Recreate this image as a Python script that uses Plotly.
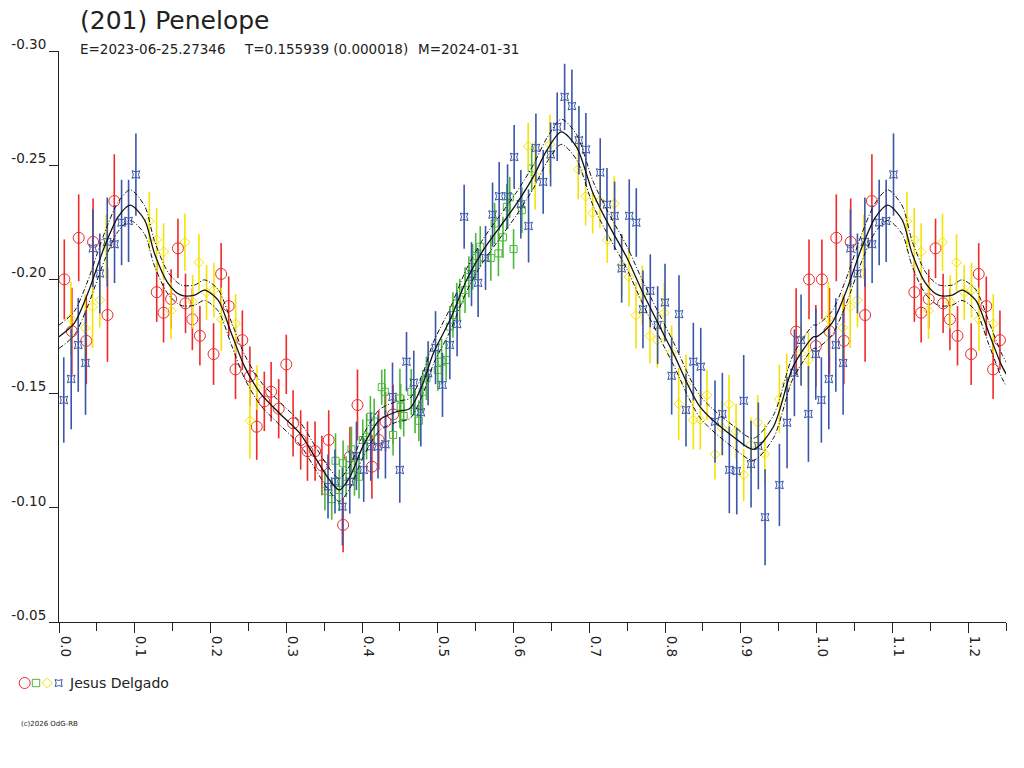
import plotly.graph_objects as go

# ---------------- data (phase, magnitude, error) ----------------
red_phase = [0.007, 0.017, 0.026, 0.036, 0.045, 0.064, 0.073, 0.129, 0.138, 0.148,
             0.157, 0.167, 0.176, 0.186, 0.204, 0.214, 0.224, 0.233, 0.242, 0.252,
             0.261, 0.271, 0.280, 0.290, 0.300, 0.309, 0.319, 0.328, 0.338, 0.347,
             0.356, 0.375, 0.384, 0.394, 0.413, 0.422, 0.431, 0.441, 0.973, 0.990, 0.999]
red_mag = [-0.2000, -0.1773, -0.2182, -0.1731, -0.2164, -0.1844, -0.2343, -0.1944, -0.1854, -0.1914,
           -0.2136, -0.1895, -0.1825, -0.1753, -0.1673, -0.2024, -0.1883, -0.1606, -0.1734, -0.1576,
           -0.1355, -0.1466, -0.1508, -0.1434, -0.1628, -0.1370, -0.1297, -0.1248, -0.1248, -0.1185,
           -0.1297, -0.0925, -0.1224, -0.1450, -0.1180, -0.1297, -0.1377, -0.1409, -0.1771, -0.2000, -0.1708]
red_err = [0.0175, 0.019, 0.019, 0.019, 0.019, 0.0205, 0.0205, 0.013, 0.013, 0.013,
           0.013, 0.013, 0.0135, 0.013, 0.0135, 0.0135, 0.013, 0.013, 0.013, 0.013,
           0.0145, 0.013, 0.013, 0.013, 0.013, 0.0145, 0.013, 0.013, 0.013, 0.013,
           0.013, 0.012, 0.013, 0.0155, 0.014, 0.013, 0.013, 0.013, 0.019, 0.0175, 0.018]

green_phase = [0.351, 0.360, 0.365, 0.370, 0.375, 0.379, 0.386, 0.390, 0.396, 0.401,
               0.406, 0.411, 0.416, 0.426, 0.430, 0.441, 0.450, 0.451, 0.455, 0.465,
               0.470, 0.475, 0.480, 0.485, 0.500, 0.505, 0.511, 0.516, 0.520, 0.525,
               0.529, 0.536, 0.541, 0.546, 0.550, 0.556, 0.570, 0.575, 0.580, 0.586,
               0.591, 0.595, 0.600, 0.611, 0.624]
green_mag = [-0.1075, -0.1038, -0.1206, -0.1078, -0.1195, -0.1136, -0.1256, -0.1143, -0.1136, -0.1297,
             -0.1311, -0.1399, -0.1377, -0.1528, -0.1508, -0.1319, -0.1479, -0.1443, -0.1402, -0.1508,
             -0.1421, -0.1381, -0.1508, -0.1567, -0.1603, -0.1640, -0.1647, -0.1793, -0.1844, -0.1895,
             -0.1912, -0.1953, -0.2011, -0.2055, -0.2103, -0.2143, -0.2094, -0.2245, -0.2114, -0.2184,
             -0.2318, -0.2359, -0.2133, -0.2303, -0.2486]
green_err = [0.0087, 0.009, 0.012, 0.009, 0.010, 0.009, 0.010, 0.009, 0.0095, 0.009,
             0.010, 0.009, 0.010, 0.0077, 0.010, 0.009, 0.013, 0.010, 0.009, 0.010,
             0.0095, 0.009, 0.0095, 0.0095, 0.009, 0.010, 0.009, 0.009, 0.010, 0.009,
             0.009, 0.010, 0.009, 0.010, 0.010, 0.009, 0.010, 0.009, 0.010, 0.009,
             0.010, 0.009, 0.0087, 0.010, 0.010]

yellow_phase = [0.0156, 0.0346, 0.0443, 0.0539, 0.0624, 0.1192, 0.1288, 0.1380, 0.1477, 0.1662,
                0.1764, 0.1847, 0.1948, 0.2045, 0.2143, 0.2332, 0.2520, 0.2613, 0.6193, 0.6285,
                0.6480, 0.6853, 0.6951, 0.7044, 0.7140, 0.7237, 0.7329, 0.7427, 0.7523, 0.7616,
                0.7699, 0.7801, 0.7897, 0.7990, 0.8087, 0.8180, 0.8276, 0.8373, 0.8465, 0.8553,
                0.8659, 0.8752, 0.8844, 0.8937, 0.9038, 0.9131, 0.9223, 0.9316, 0.9509, 0.9606,
                0.9795, 0.9892]
yellow_mag = [-0.1829, -0.1788, -0.1880, -0.1909, -0.2143, -0.2255, -0.2173, -0.2121, -0.1863, -0.2163,
              -0.1902, -0.2074, -0.1943, -0.1953, -0.1825, -0.1806, -0.1381, -0.1526, -0.2583, -0.2456,
              -0.2591, -0.2481, -0.2364, -0.2291, -0.2344, -0.2172, -0.2332, -0.2063, -0.2011, -0.1843,
              -0.1931, -0.1753, -0.1734, -0.1854, -0.1679, -0.1455, -0.1542, -0.1385, -0.1385, -0.1494,
              -0.1234, -0.1348, -0.1453, -0.1336, -0.1144, -0.1275, -0.1374, -0.1236, -0.1476, -0.1545,
              -0.1676, -0.1647]
yellow_err = [0.016, 0.0146, 0.018, 0.012, 0.014, 0.0128, 0.014, 0.0125, 0.0124, 0.0125,
              0.0117, 0.0124, 0.012, 0.012, 0.0139, 0.013, 0.0166, 0.0098, 0.0102, 0.015,
              0.013, 0.013, 0.0128, 0.009, 0.012, 0.010, 0.012, 0.013, 0.013, 0.0146,
              0.013, 0.012, 0.012, 0.013, 0.012, 0.0157, 0.013, 0.013, 0.013, 0.011,
              0.011, 0.012, 0.013, 0.012, 0.0114, 0.012, 0.012, 0.013, 0.015, 0.013,
              0.013, 0.012]

blue_phase = [0.0063, 0.0161, 0.0254, 0.0350, 0.0447, 0.0539, 0.0637, 0.0733, 0.0826, 0.0918,
              0.1015, 0.3551, 0.3643, 0.3741, 0.3838, 0.3926, 0.4022, 0.4115, 0.4211, 0.4309,
              0.4402, 0.4498, 0.4587, 0.4683, 0.4776, 0.4872, 0.4970, 0.5062, 0.5159, 0.5255,
              0.5348, 0.5445, 0.5532, 0.5630, 0.5723, 0.5810, 0.5921, 0.6008, 0.6096, 0.6198,
              0.6295, 0.6391, 0.6489, 0.6576, 0.6674, 0.6770, 0.6863, 0.6955, 0.7144, 0.7233,
              0.7334, 0.7427, 0.7527, 0.7620, 0.7708, 0.7805, 0.7902, 0.7999, 0.8184, 0.8087,
              0.8276, 0.8373, 0.8471, 0.8659, 0.8756, 0.8848, 0.8946, 0.9038, 0.9135, 0.9231,
              0.9320, 0.9509, 0.9610, 0.9707, 0.9795, 0.9892, 0.9989]
blue_mag = [-0.1472, -0.1564, -0.1713, -0.1634, -0.2136, -0.2026, -0.2164, -0.2154, -0.2249, -0.2256,
            -0.2459, -0.1093, -0.1115, -0.1005, -0.1115, -0.1227, -0.1166, -0.1268, -0.1268, -0.1278,
            -0.1486, -0.1166, -0.1640, -0.1548, -0.1418, -0.1589, -0.1701, -0.1538, -0.1713, -0.1804,
            -0.2274, -0.2023, -0.1985, -0.2094, -0.2284, -0.2364, -0.2364, -0.2536, -0.2329, -0.2234,
            -0.2576, -0.2427, -0.2547, -0.2668, -0.2799, -0.2759, -0.2609, -0.2569, -0.2468, -0.2328,
            -0.2278, -0.2048, -0.2278, -0.2249, -0.1869, -0.1950, -0.1800, -0.1899, -0.1848, -0.1578,
            -0.1428, -0.1640, -0.1618, -0.1377, -0.1411, -0.1166, -0.1161, -0.1469, -0.1191, -0.1271,
            -0.0959, -0.1100, -0.1373, -0.1591, -0.1734, -0.1411, -0.1673]
blue_err = [0.0187, 0.022, 0.0205, 0.0227, 0.017, 0.0175, 0.0195, 0.017, 0.0187, 0.018,
            0.018, 0.014, 0.014, 0.017, 0.014, 0.015, 0.014, 0.015, 0.014, 0.015,
            0.015, 0.0144, 0.013, 0.014, 0.015, 0.014, 0.016, 0.014, 0.015, 0.014,
            0.014, 0.014, 0.015, 0.014, 0.014, 0.015, 0.014, 0.014, 0.015, 0.016,
            0.015, 0.014, 0.014, 0.015, 0.0145, 0.016, 0.015, 0.016, 0.015, 0.016,
            0.015, 0.015, 0.016, 0.015, 0.017, 0.016, 0.017, 0.017, 0.017, 0.017,
            0.016, 0.017, 0.017, 0.018, 0.018, 0.019, 0.019, 0.020, 0.019, 0.019,
            0.021, 0.018, 0.020, 0.019, 0.020, 0.021, 0.020]

# Fourier fit (solid) and its uncertainty half-width (dash-dot envelopes)
fit_phase = [0.000, 0.020, 0.038, 0.060, 0.078, 0.094, 0.113, 0.126, 0.144, 0.161,
             0.179, 0.192, 0.210, 0.2275, 0.245, 0.266, 0.291, 0.318, 0.340, 0.357,
             0.370, 0.384, 0.401, 0.423, 0.446, 0.463, 0.481, 0.494, 0.516, 0.538,
             0.560, 0.582, 0.604, 0.626, 0.644, 0.663, 0.683, 0.705, 0.727, 0.749,
             0.771, 0.793, 0.811, 0.846, 0.890, 0.9165, 0.943, 0.969, 0.996]
fit_mag = [-0.1749, -0.1807, -0.1939, -0.2143, -0.2274, -0.2325, -0.2260, -0.2114, -0.1983, -0.1931,
           -0.1931, -0.1953, -0.1909, -0.1764, -0.1618, -0.1501, -0.1414, -0.1326, -0.1210, -0.1122,
           -0.1078, -0.1136, -0.1268, -0.1384, -0.1421, -0.1435, -0.1550, -0.1676, -0.1822, -0.1997,
           -0.2128, -0.2230, -0.2332, -0.2449, -0.2566, -0.2646, -0.2580, -0.2376, -0.2230, -0.2099,
           -0.1939, -0.1793, -0.1676, -0.1443, -0.1311, -0.1256, -0.1355, -0.1618, -0.1749]
fit_sigma = [0.0051, 0.0052, 0.0055, 0.0060, 0.0064, 0.0067, 0.0062, 0.0055, 0.0048, 0.0045,
             0.0044, 0.0045, 0.0047, 0.0050, 0.0052, 0.0052, 0.0050, 0.0050, 0.0050, 0.0050,
             0.0050, 0.0050, 0.0048, 0.0046, 0.0045, 0.0045, 0.0046, 0.0048, 0.0050, 0.0050,
             0.0050, 0.0050, 0.0050, 0.0052, 0.0053, 0.0055, 0.0055, 0.0053, 0.0050, 0.0050,
             0.0050, 0.0050, 0.0050, 0.0048, 0.0048, 0.0048, 0.0050, 0.0051, 0.0051]

y_tick_vals = [-0.30, -0.25, -0.20, -0.15, -0.10, -0.05]
y_tick_text = ["-0.30", "-0.25", "-0.20", "-0.15", "-0.10", "-0.05"]

title_text = "(201) Penelope"
sub_texts = ["E=2023-06-25.27346", "T=0.155939 (0.000018)", "M=2024-01-31"]
observer = "Jesus Delgado"
copyright_text = "(c)2026 OdG-RB"

RED, GREEN, YELLOW, BLUE = "#ee2a2a", "#4cb83a", "#f4e400", "#3a55aa"
FONT = "DejaVu Sans"
TXT = "#222222"

# ---------------- geometry ----------------
W, H = 1024, 768
ML, MR, MT, MB = 59, 18, 51, 146
PW, PH = W - ML - MR, H - MT - MB


def px_x(px):
    return (px - ML) / PW


def px_y(py):
    return (H - MB - py) / PH


def wrap(phase, *cols, limit=0.25):
    """Repeat the start of the cycle after phase 1.0, as phased lightcurves do."""
    ph = list(phase)
    out = [list(c) for c in cols]
    for i, p in enumerate(phase):
        if p <= limit:
            ph.append(p + 1.0)
            for o, c in zip(out, cols):
                o.append(c[i])
    return [ph] + out


fig = go.Figure()

series = [
    (red_phase, red_mag, red_err, RED, "circle-open", 11),
    (green_phase, green_mag, green_err, GREEN, "square-open", 7),
    (yellow_phase, yellow_mag, yellow_err, YELLOW, "diamond-open", 7.5),
    (blue_phase, blue_mag, blue_err, BLUE, "star-square-open", 7),
]
for ph, mg, er, col, sym, sz in series:
    p2, m2, e2 = wrap(ph, mg, er)
    fig.add_trace(go.Scatter(
        x=p2, y=m2, mode="markers", showlegend=False,
        marker=dict(symbol=sym, size=sz, color=col, line=dict(color=col, width=1)),
        error_y=dict(type="data", array=e2, visible=True, color=col, thickness=1.6, width=0),
    ))

fp, fm, fs = wrap(fit_phase, fit_mag, fit_sigma, limit=0.27)
upper = [m - s for m, s in zip(fm, fs)]
lower = [m + s for m, s in zip(fm, fs)]
for yy, dash, wd in [(upper, "5px,2px,1px,2px", 1), (lower, "5px,2px,1px,2px", 1), (fm, "solid", 1.3)]:
    fig.add_trace(go.Scatter(
        x=fp, y=yy, mode="lines", showlegend=False,
        line=dict(color="#111111", width=wd, dash=dash, shape="spline", smoothing=0.8),
        hoverinfo="skip",
    ))

axis_common = dict(showgrid=False, zeroline=False, showline=True, linecolor=TXT, linewidth=1,
                   ticks="outside", tickcolor=TXT, tickwidth=1,
                   tickfont=dict(family=FONT, size=13.5, color=TXT))

fig.update_xaxes(range=[0, 1.25], tick0=0, dtick=0.1, tickformat=".1f", ticklen=10,
                 tickangle=90, ticklabelshift=6,
                 minor=dict(dtick=0.05, tick0=0, ticks="outside", ticklen=8, tickcolor=TXT, tickwidth=1),
                 **axis_common)
fig.update_yaxes(range=[-0.05, -0.30], tickmode="array", tickvals=y_tick_vals, ticktext=y_tick_text,
                 ticklen=9, ticklabelshift=7, **axis_common)

annotations = [
    dict(text=title_text, x=px_x(78), y=px_y(21), xanchor="left", yanchor="middle",
         font=dict(family=FONT, size=25, color=TXT)),
]
for t, xp in zip(sub_texts, [78, 242, 416]):
    annotations.append(dict(text=t, x=px_x(xp), y=px_y(49), xanchor="left", yanchor="middle",
                            font=dict(family=FONT, size=13.5, color=TXT)))
annotations.append(dict(text=observer, x=px_x(67), y=px_y(683), xanchor="left", yanchor="middle",
                        font=dict(family=FONT, size=14, color=TXT)))
annotations.append(dict(text=copyright_text, x=px_x(19), y=px_y(724), xanchor="left", yanchor="middle",
                        font=dict(family=FONT, size=7, color=TXT)))
for a in annotations:
    a.update(xref="paper", yref="paper", showarrow=False)

# legend swatches (drawn as small shapes next to the observer name)
ly = px_y(683)
shapes = [
    dict(type="circle", xref="paper", yref="paper", xsizemode="pixel", ysizemode="pixel",
         xanchor=px_x(24.7), yanchor=ly, x0=-5.5, x1=5.5, y0=-5.5, y1=5.5,
         line=dict(color=RED, width=1)),
    dict(type="rect", xref="paper", yref="paper", xsizemode="pixel", ysizemode="pixel",
         xanchor=px_x(36), yanchor=ly, x0=-3.7, x1=3.7, y0=-3.7, y1=3.7,
         line=dict(color=GREEN, width=1)),
    dict(type="path", xref="paper", yref="paper", xsizemode="pixel", ysizemode="pixel",
         xanchor=px_x(47.2), yanchor=ly, path="M0,-5 L5,0 L0,5 L-5,0 Z",
         line=dict(color=YELLOW, width=1)),
    dict(type="path", xref="paper", yref="paper", xsizemode="pixel", ysizemode="pixel",
         xanchor=px_x(58.7), yanchor=ly,
         path="M-3.5,-3.5 Q0,-1.6 3.5,-3.5 Q1.6,0 3.5,3.5 Q0,1.6 -3.5,3.5 Q-1.6,0 -3.5,-3.5 Z",
         line=dict(color=BLUE, width=1)),
]

fig.update_layout(
    width=W, height=H, autosize=False,
    margin=dict(l=ML, r=MR, t=MT, b=MB, pad=0),
    paper_bgcolor="white", plot_bgcolor="white",
    font=dict(family=FONT, color=TXT),
    annotations=annotations, shapes=shapes,
    showlegend=False,
)

fig.write_html("out.html", config={"displayModeBar": False},
               post_script="document.body.style.margin='0';document.body.style.overflow='hidden';")
